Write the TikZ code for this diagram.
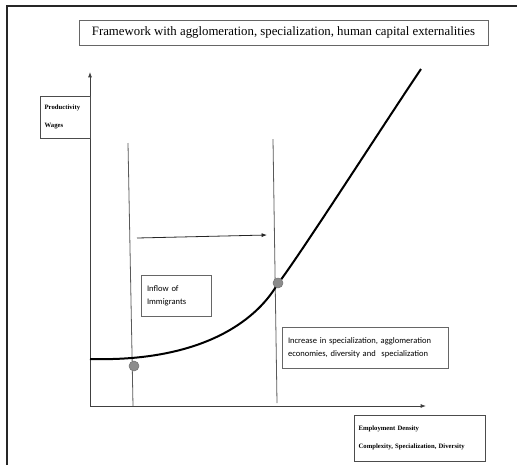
\documentclass[tikz,border=0pt]{standalone}
\usepackage{fontspec}
\setmainfont{Liberation Serif}
\newfontfamily\calibri{Carlito}
\usetikzlibrary{arrows.meta,positioning}

\begin{document}
\begin{tikzpicture}[x={(0.75pt,0pt)}, y={(0pt,-0.75pt)}, >={Latex[length=4pt,width=3pt]},
    axis/.style={->, draw=black!75, line width=0.7pt},
    guide/.style={draw=black!65, line width=0.6pt},
    titlebox/.style={draw=black!60, line width=0.6pt, inner sep=0pt,
        font=\fontsize{9.6}{11}\selectfont},
    labelbox/.style={draw=black!70, line width=0.6pt, inner xsep=3.5pt,
        align=left, font=\bfseries\fontsize{5}{13.5}\selectfont},
    note/.style={draw=black!60, line width=0.6pt, inner xsep=4.5pt,
        align=left, font=\calibri\fontsize{6.4}{9.8}\selectfont},
    dot/.style={circle, fill=black!45, draw=black!55, inner sep=0pt,
        minimum size=7.5pt}]

  \useasboundingbox (0,0) rectangle (517,465);

  % outer frame
  \draw[black!85, line width=1.2pt] (7,465) -- (7,6) -- (517,6);

  \node[titlebox, minimum width=306.75pt, minimum height=18.75pt] (title)
    at (283.5,32.5) {Framework with agglomeration, specialization, human capital externalities};

  % axes
  \coordinate (origin) at (90,406);
  \coordinate (ytop) at (90,72);
  \coordinate (xend) at (426,406);
  \draw[axis] (origin) -- (ytop);
  \draw[axis] (origin) -- (xend);

  \node[labelbox, minimum width=37.5pt, minimum height=31.5pt, text width=30.5pt]
    (yaxislabel) at (65,117) {Productivity\\Wages};
  \node[labelbox, minimum width=98.25pt, minimum height=34.5pt, text width=91.25pt]
    (xaxislabel) at (419.5,438) {Employment Density\\Complexity, Specialization, Diversity};

  % two positions on the density axis
  \coordinate (lowtop) at (128,143);
  \coordinate (lowbot) at (133,406);
  \coordinate (hightop) at (273,139);
  \coordinate (highbot) at (277,403);
  \draw[guide] (lowtop) -- (lowbot);
  \draw[guide] (hightop) -- (highbot);

  \coordinate (shiftstart) at (137,238);
  \coordinate (shiftend) at (267,235);
  \draw[->, black!85, line width=0.6pt] (shiftstart) -- (shiftend);

  % productivity curve
  \draw[black, line width=1.5pt] (90,359) .. controls (200,362) and (255,322) .. (277,285)
    .. controls (300,255) and (380,130) .. (421,69);

  \node[dot] (lowpt) at (134,366) {};
  \node[dot] (highpt) at (278,283) {};

  \node[note, minimum width=52.5pt, minimum height=30.75pt, text width=43.5pt]
    (inflow) at (176,295.5) {Inflow of\\Immigrants};
  \node[note, minimum width=124.5pt, minimum height=30.75pt, text width=115.5pt]
    (increase) at (365,347.5) {Increase in specialization, agglomeration\\economies, diversity and\ \ specialization};

\end{tikzpicture}
\end{document}
